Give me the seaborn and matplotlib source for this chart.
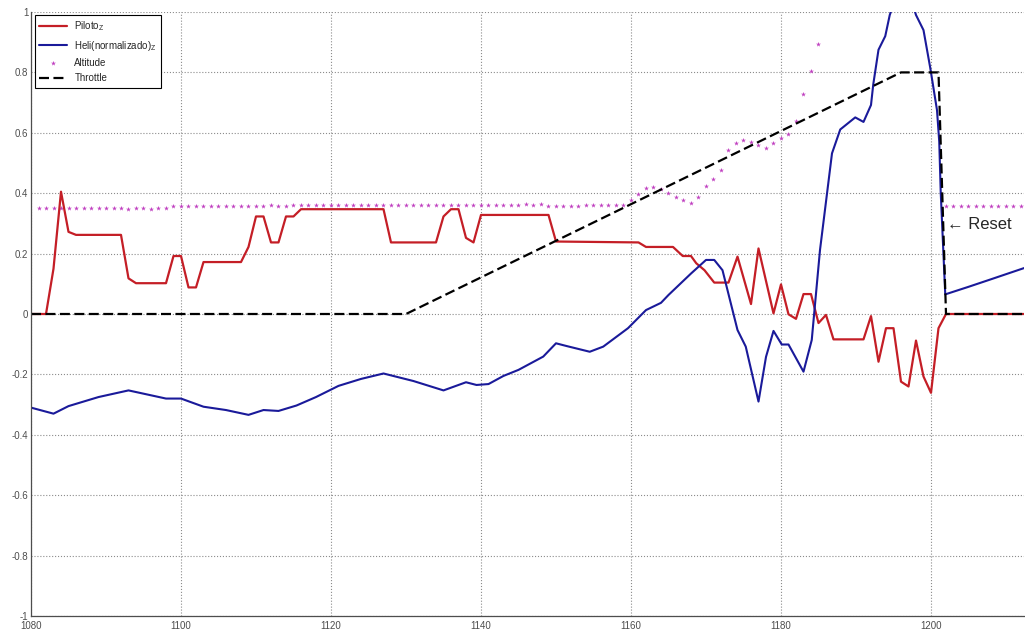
import numpy as np
import pandas as pd
import seaborn as sns
import matplotlib.pyplot as plt

# Piloto (Z) - pilot command
piloto_t = [1080, 1082, 1083, 1084, 1085, 1086, 1092, 1093, 1094, 1098, 1099, 1100,
            1101, 1102, 1103, 1108, 1109, 1110, 1111, 1112, 1113, 1114, 1115, 1116,
            1127, 1128, 1134, 1135, 1136, 1137, 1138, 1139, 1140, 1149, 1150, 1161,
            1162, 1165.6, 1166.9, 1168, 1168.7, 1169.8, 1171.1, 1173, 1174.2, 1176,
            1177, 1179, 1180, 1181, 1182, 1183, 1184, 1185, 1186, 1187, 1191, 1192,
            1193, 1194, 1195, 1196, 1197, 1198, 1199, 1200, 1201, 1202, 1212.4]
piloto_z = [0, 0, 0.15, 0.405, 0.272, 0.262, 0.262, 0.118, 0.102, 0.102, 0.192, 0.192,
            0.088, 0.088, 0.172, 0.172, 0.222, 0.323, 0.323, 0.237, 0.237, 0.323, 0.323, 0.347,
            0.347, 0.237, 0.237, 0.323, 0.347, 0.347, 0.252, 0.237, 0.328, 0.328, 0.24, 0.237,
            0.222, 0.222, 0.192, 0.192, 0.168, 0.145, 0.104, 0.104, 0.19, 0.033,
            0.217, 0.002, 0.098, -0.001, -0.016, 0.066, 0.066, -0.03, -0.003, -0.084, -0.084, -0.007,
            -0.158, -0.047, -0.047, -0.224, -0.24, -0.088, -0.207, -0.261, -0.047, 0, 0]

# Heli (normalizado) Z
heli_t = [1080, 1083, 1085, 1089, 1093, 1098, 1100, 1103, 1106, 1109, 1111, 1113,
          1115.4, 1118, 1121, 1124, 1127, 1131, 1135, 1138, 1139.4, 1141, 1143, 1145,
          1148.3, 1150, 1151.4, 1154.5, 1156.3, 1159.6, 1162, 1164, 1165, 1168, 1170,
          1171.1, 1172.2, 1174.2, 1175.3, 1177, 1178, 1179, 1180.1, 1181, 1183, 1184.1,
          1185.2, 1186.8, 1187.9, 1189.9, 1191, 1192, 1192.3, 1193, 1193.9, 1194.5,
          1195.5, 1196.5, 1197.5, 1198, 1199, 1199.9, 1200.8, 1201.1, 1201.3, 1201.9,
          1205, 1208, 1212.4]
heli_z = [-0.31, -0.33, -0.305, -0.275, -0.253, -0.28, -0.28, -0.307, -0.318, -0.334, -0.318, -0.321,
          -0.303, -0.275, -0.238, -0.215, -0.197, -0.222, -0.253, -0.226, -0.235, -0.232, -0.205, -0.185,
          -0.141, -0.097, -0.106, -0.125, -0.108, -0.047, 0.013, 0.037, 0.063, 0.134, 0.179,
          0.179, 0.145, -0.053, -0.108, -0.29, -0.142, -0.056, -0.101, -0.101, -0.191, -0.086,
          0.212, 0.532, 0.611, 0.651, 0.636, 0.692, 0.76, 0.875, 0.92, 0.99,
          1.06, 1.08, 1.03, 0.99, 0.94, 0.815, 0.675, 0.57, 0.40, 0.065,
          0.09, 0.115, 0.152]

# Altitude samples
alt_t = list(range(1081, 1186)) + list(range(1202, 1213))
alt_v = [0.352, 0.352, 0.352, 0.352, 0.352, 0.352, 0.352, 0.352, 0.352, 0.352, 0.352, 0.352,
         0.348, 0.352, 0.352, 0.348, 0.352, 0.352, 0.358,
         0.358, 0.358, 0.358, 0.358, 0.358, 0.358, 0.358, 0.358, 0.358, 0.358,
         0.358, 0.358, 0.361, 0.358, 0.358, 0.361, 0.361, 0.361, 0.361, 0.361,
         0.361, 0.361, 0.361, 0.361, 0.361, 0.361, 0.361, 0.361, 0.361, 0.361,
         0.361, 0.361, 0.361, 0.361, 0.361, 0.361, 0.361, 0.361, 0.361, 0.361,
         0.361, 0.361, 0.361, 0.361, 0.361, 0.361, 0.365, 0.361, 0.365, 0.358,
         0.358, 0.358, 0.358, 0.358, 0.361, 0.361, 0.361, 0.361, 0.361, 0.361,
         0.378, 0.399, 0.418, 0.421, 0.413, 0.40, 0.387, 0.377, 0.366, 0.386,
         0.424, 0.447, 0.478, 0.543, 0.567, 0.575, 0.57, 0.56,
         0.551, 0.565, 0.584, 0.597, 0.64, 0.728, 0.805, 0.894,
         0.358, 0.358, 0.358, 0.358, 0.358, 0.358, 0.358, 0.358, 0.358, 0.358, 0.358]

# Throttle
thr_t = [1080, 1130, 1196, 1201, 1202, 1212.4]
thr_v = [0, 0, 0.8, 0.8, 0, 0]

sns.set_theme(style="white")
plt.rcParams['font.family'] = ['Liberation Sans', 'DejaVu Sans']
plt.rcParams['mathtext.default'] = 'regular'

fig = plt.figure(figsize=(10.25, 6.31), dpi=100)
ax = fig.add_axes([31 / 1025, 15 / 631, 993 / 1025, 604 / 631])

sns.lineplot(x=piloto_t, y=piloto_z, ax=ax, color='#c41e26', lw=1.6,
             estimator=None, sort=False, label='Piloto$_Z$')
sns.lineplot(x=heli_t, y=heli_z, ax=ax, color='#1a1a9a', lw=1.5,
             estimator=None, sort=False, label='Heli(normalizado)$_Z$')
sns.scatterplot(x=alt_t, y=alt_v, ax=ax, color='#c040c0', marker='*', s=14,
                linewidth=0, label='Altitude', zorder=1)
sns.lineplot(x=thr_t, y=thr_v, ax=ax, color='black', lw=1.6, linestyle=(0, (4.5, 2)),
             estimator=None, sort=False, label='Throttle')

ax.text(1202.2, 0.295, '\u2190 Reset', fontsize=12, va='center', ha='left',
        family=['Liberation Sans', 'DejaVu Sans'])

ax.set_xlim(1080, 1212.4)
ax.set_ylim(-1, 1)
ax.set_xticks(np.arange(1080, 1201, 20))
ax.set_yticks(np.round(np.arange(-1, 1.01, 0.2), 1))
ax.set_yticklabels(['-1', '-0.8', '-0.6', '-0.4', '-0.2', '0', '0.2', '0.4', '0.6', '0.8', '1'])
ax.grid(True, linestyle=':', color='0.55', lw=0.8)
ax.tick_params(direction='in', length=6, width=0.8, labelsize=7, labelcolor='0.3')
ax.tick_params(axis='x', pad=3.5)
ax.tick_params(axis='y', pad=2)
for s in ['top', 'right']:
    ax.spines[s].set_visible(False)
for s in ['left', 'bottom']:
    ax.spines[s].set_color('0.3')
    ax.spines[s].set_linewidth(0.9)
ax.set_xlabel('')
ax.set_ylabel('')

leg = ax.legend(loc='upper left', bbox_to_anchor=(0.004, 0.995), borderaxespad=0,
                fontsize=7, handlelength=2.8, labelspacing=0.55, fancybox=False,
                framealpha=1, edgecolor='black', borderpad=0.45)
leg.get_frame().set_linewidth(0.8)

fig.savefig('out.png', dpi=100)
